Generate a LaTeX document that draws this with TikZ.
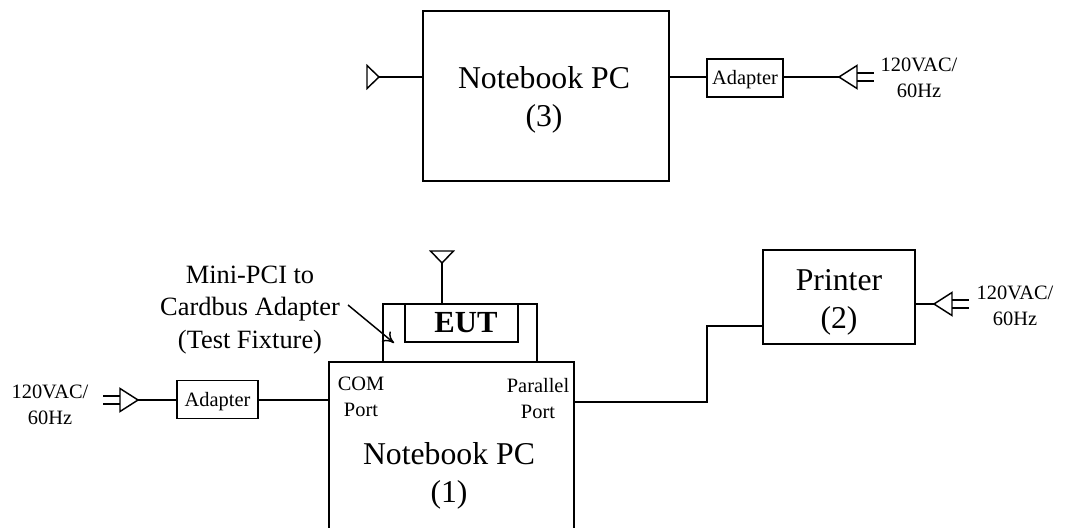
\documentclass[tikz,border=0pt]{standalone}
\usepackage{fontspec}
\setmainfont{Liberation Serif}
\usetikzlibrary{arrows.meta}
\tikzset{
  line/.style={line width=1.1pt},
  box/.style={draw,line width=1.1pt,inner sep=0pt,outer sep=0pt,align=center},
  big/.style={font=\fontsize{23.8}{28.5}\selectfont,align=center},
  mid/.style={font=\fontsize{19.8}{24.4}\selectfont,align=center},
  small/.style={font=\fontsize{15.3}{19.8}\selectfont,align=center},
  plug/.pic={
    \draw[line,line join=miter] (18,-11.5) -- (0,0) -- (18,11.5) -- cycle;
    \draw[line] (18,-4) -- (35,-4);
    \draw[line] (18,4) -- (35,4);
  },
  aerial/.pic={
    \draw[line,line join=miter] (12,-11.5) -- (0,0) -- (12,11.5) -- cycle;
  }
}
\begin{document}
\begin{tikzpicture}[x=.75pt,y=-.75pt]
  \useasboundingbox (0,0) rectangle (1065,528);

  % top set
  \node[box,minimum width=184.5pt,minimum height=127.5pt] (pc3) at (546,96) {};
  \node[box,minimum width=57pt,minimum height=28.5pt] (adapter3) at (745,78) {};
  \node[small] (adapter3text) at (745,80) {Adapter};
  \node[big] (pc3text) at (544,100) {Notebook PC\\(3)};
  \node[small] (mains3) at (919,78) {120VAC/\\60Hz};
  \coordinate (aerial3) at (379,77);
  \coordinate (plug3) at (839,77);
  \draw[line] (aerial3) -- (aerial3-|pc3.west);
  \draw[line] (pc3.east|-plug3) -- (adapter3.west|-plug3);
  \draw[line] (adapter3.east|-plug3) -- (plug3);
  \pic at (aerial3) [rotate=180] {aerial};
  \pic at (plug3) {plug};

  % bottom set
  \node[box,minimum width=115.5pt,minimum height=43.5pt] (fixture) at (460,333) {};
  \node[box,minimum width=84.75pt,minimum height=28.5pt] (eut) at (461.5,323) {};
  \node[font=\fontsize{23}{28}\selectfont\bfseries] (euttext) at (466,323) {EUT};
  \node[inner sep=0pt,outer sep=0pt,minimum width=183.75pt,minimum height=124.5pt] (pc1) at (451.5,445) {};
  \draw[line] (pc1.south west) -- (pc1.north west) -- (pc1.north east) -- (pc1.south east);
  \node[small] (com) at (361,397) {COM\\Port};
  \node[small] (parallel) at (538,398.5) {Parallel\\Port};
  \node[big] (pc1text) at (449,476) {Notebook PC\\(1)};
  \node[box,minimum width=60.75pt,minimum height=28.5pt] (adapter1) at (217.5,399.5) {};
  \node[small] (adapter1text) at (217.5,402) {Adapter};
  \node[small] (mains1) at (50,405) {120VAC/\\60Hz};
  \node[mid] (label) at (250,310) {Mini-PCI to\\Cardbus Adapter\\(Test Fixture)};
  \node[box,minimum width=114pt,minimum height=70.5pt] (printer) at (839,297) {};
  \node[big] (printertext) at (839,302) {Printer\\(2)};
  \node[small] (mains2) at (1015,306) {120VAC/\\60Hz};

  \coordinate (aerial1) at (442,263);
  \coordinate (plug1) at (138,400);
  \coordinate (plug2) at (934,304);
  \coordinate (bend) at (707,402);
  \coordinate (bendup) at (707,326);
  \coordinate (arrowstart) at (348,305);
  \coordinate (arrowend) at (394,343);

  \draw[line] (aerial1) -- (aerial1|-fixture.north);
  \pic at (aerial1) [rotate=90] {aerial};
  \draw[line] (plug1) -- (adapter1.west|-plug1);
  \pic at (plug1) [rotate=180] {plug};
  \draw[line] (adapter1.east|-plug1) -- (plug1-|pc1.west);
  \draw[line] (bend-|pc1.east) -- (bend) -- (bendup) -- (bendup-|printer.west);
  \draw[line] (printer.east|-plug2) -- (plug2);
  \pic at (plug2) {plug};
  \draw[line,-{To[length=8pt,width=10pt]}] (arrowstart) -- (arrowend);
\end{tikzpicture}
\end{document}
